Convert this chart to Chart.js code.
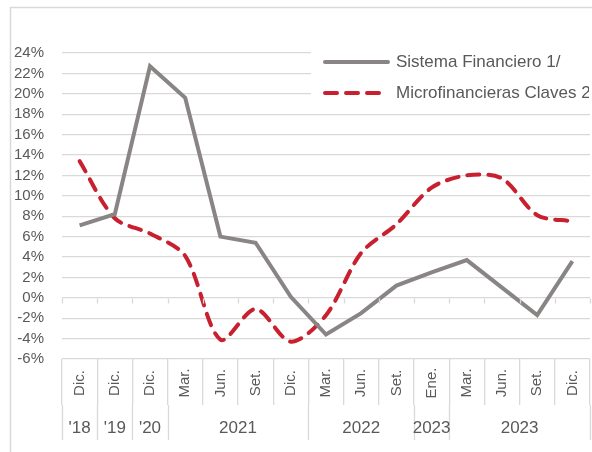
<!DOCTYPE html>
<html lang="es">
<head>
    <meta charset="UTF-8">
    <title>Sistema Financiero vs Microfinancieras</title>
    <script src="https://cdn.jsdelivr.net/npm/chart.js"></script>
    <style>
        body, html {
            margin: 0;
            padding: 0;
            background: #fff;
        }
        .chart-box {
            position: relative;
            width: 592px;
            height: 452px;
        }
    </style>
</head>
<body>
<div class="chart-box">
    <canvas id="tasasChart"></canvas>
</div>

<script>
    // Datos (%)
    const months = ['Dic.', 'Dic.', 'Dic.', 'Mar.', 'Jun.', 'Set.', 'Dic.', 'Mar.', 'Jun.', 'Set.', 'Ene.', 'Mar.', 'Jun.', 'Set.', 'Dic.'];
    const yearLabels = ["'18", "'19", "'20", '2021', '2022', '2023', '2023'];
    const yearSpans = [1, 1, 1, 4, 3, 1, 4];
    const sistemaFinanciero = [7.1, 8.2, 22.7, 19.6, 6.0, 5.4, 0.1, -3.6, -1.5, 1.2, 2.5, 3.7, 1.0, -1.7, 3.6];
    const microfinancieras = [13.4, 7.8, 6.3, 4.1, -4.1, -1.1, -4.3, -1.7, 4.4, 7.2, 10.8, 12.0, 11.7, 8.1, 7.5];
    const seriesNames = ['Sistema Financiero 1/', 'Microfinancieras Claves 2/'];

    const FONT = '"Liberation Sans", Arial, sans-serif';
    const TEXT = '#595959';
    const GRID = '#d9d9d9';

    // frame, x labels, separators and the legend box
    const decor = {
        id: 'decor',
        beforeDraw(chart) {
            const ctx = chart.ctx;
            ctx.save();
            ctx.fillStyle = '#fff';
            ctx.fillRect(0, 0, chart.width, chart.height);
            ctx.strokeStyle = GRID;
            ctx.lineWidth = 1.5;
            ctx.beginPath();
            ctx.moveTo(10.5, chart.height + 2);
            ctx.lineTo(10.5, 7.5);
            ctx.lineTo(chart.width + 2, 7.5);
            ctx.stroke();
            ctx.restore();
        },
        afterDraw(chart) {
            const ctx = chart.ctx;
            const x = chart.scales.x;
            const y = chart.scales.y;
            const area = chart.chartArea;
            const half = (x.getPixelForValue(1) - x.getPixelForValue(0)) / 2;
            const edge = i => x.getPixelForValue(i) - half;

            ctx.save();
            ctx.strokeStyle = GRID;
            ctx.lineWidth = 1.3;

            // small ticks on the 0% line
            const y0 = Math.round(y.getPixelForValue(0)) + 0.5;
            ctx.beginPath();
            for (let i = 0; i <= months.length; i++) {
                const px = Math.round(edge(i)) + 0.5;
                ctx.moveTo(px, y0);
                ctx.lineTo(px, y0 + 5);
            }
            ctx.stroke();

            // year group separators
            ctx.beginPath();
            let idx = 0;
            const bottomRow = area.bottom + 46;
            for (let g = 0; g <= yearSpans.length; g++) {
                const px = Math.round(edge(idx)) + 0.5;
                ctx.moveTo(px, bottomRow);
                ctx.lineTo(px, bottomRow + 35);
                if (g < yearSpans.length) idx += yearSpans[g];
            }
            ctx.stroke();

            // month labels (rotated)
            ctx.fillStyle = TEXT;
            ctx.font = '15px ' + FONT;
            ctx.textAlign = 'center';
            ctx.textBaseline = 'middle';
            months.forEach((m, i) => {
                ctx.save();
                ctx.translate(x.getPixelForValue(i), area.bottom + 24);
                ctx.rotate(-Math.PI / 2);
                ctx.fillText(m, 0, 0);
                ctx.restore();
            });

            // year labels
            ctx.font = '17px ' + FONT;
            idx = 0;
            yearLabels.forEach((lbl, g) => {
                const from = edge(idx);
                const to = edge(idx + yearSpans[g]);
                ctx.fillText(lbl, (from + to) / 2, area.bottom + 69);
                idx += yearSpans[g];
            });

            // legend
            ctx.fillStyle = '#fff';
            ctx.fillRect(311, 44, chart.width - 311, 62);
            const rows = [62, 93];
            chart.data.datasets.forEach((ds, i) => {
                ctx.save();
                ctx.strokeStyle = ds.borderColor;
                ctx.lineWidth = ds.borderWidth;
                ctx.lineCap = 'round';
                ctx.setLineDash(ds.borderDash || []);
                ctx.beginPath();
                ctx.moveTo(325, rows[i]);
                ctx.lineTo(388, rows[i]);
                ctx.stroke();
                ctx.restore();
                ctx.save();
                ctx.beginPath();
                ctx.rect(311, 44, 278, 62);
                ctx.clip();
                ctx.fillStyle = TEXT;
                ctx.font = '17px ' + FONT;
                ctx.textAlign = 'left';
                ctx.textBaseline = 'middle';
                ctx.fillText(ds.label, 396, rows[i]);
                ctx.restore();
            });
            ctx.restore();
        }
    };

    const ctx = document.getElementById('tasasChart').getContext('2d');
    const tasasChart = new Chart(ctx, {
        type: 'line',
        data: {
            labels: months,
            datasets: [
                {
                    label: seriesNames[0],
                    data: sistemaFinanciero,
                    borderColor: '#8a8585',
                    borderWidth: 4,
                    pointRadius: 0,
                    tension: 0,
                    fill: false
                },
                {
                    label: seriesNames[1],
                    data: microfinancieras,
                    borderColor: '#c8202f',
                    borderWidth: 4,
                    borderDash: [12, 9],
                    borderCapStyle: 'round',
                    pointRadius: 0,
                    tension: 0.3,
                    fill: false
                }
            ]
        },
        options: {
            responsive: true,
            maintainAspectRatio: false,
            animation: false,
            layout: {
                padding: { top: 53, right: 2, left: 0, bottom: 0 }
            },
            scales: {
                x: {
                    offset: true,
                    ticks: { display: false },
                    border: { display: false },
                    grid: {
                        offset: true,
                        drawOnChartArea: false,
                        tickLength: 46,
                        color: GRID,
                        lineWidth: 1.3
                    },
                    afterFit: scale => { scale.height = 93; }
                },
                y: {
                    min: -6,
                    max: 24,
                    border: { display: false },
                    grid: {
                        color: GRID,
                        lineWidth: 1.3,
                        drawTicks: false
                    },
                    ticks: {
                        stepSize: 2,
                        autoSkip: false,
                        padding: 18,
                        color: TEXT,
                        font: { family: FONT, size: 15 },
                        callback: v => v + '%'
                    },
                    afterFit: scale => { scale.width = 62; }
                }
            },
            plugins: {
                legend: { display: false },
                tooltip: { enabled: false }
            }
        },
        plugins: [decor]
    });
</script>
</body>
</html>
